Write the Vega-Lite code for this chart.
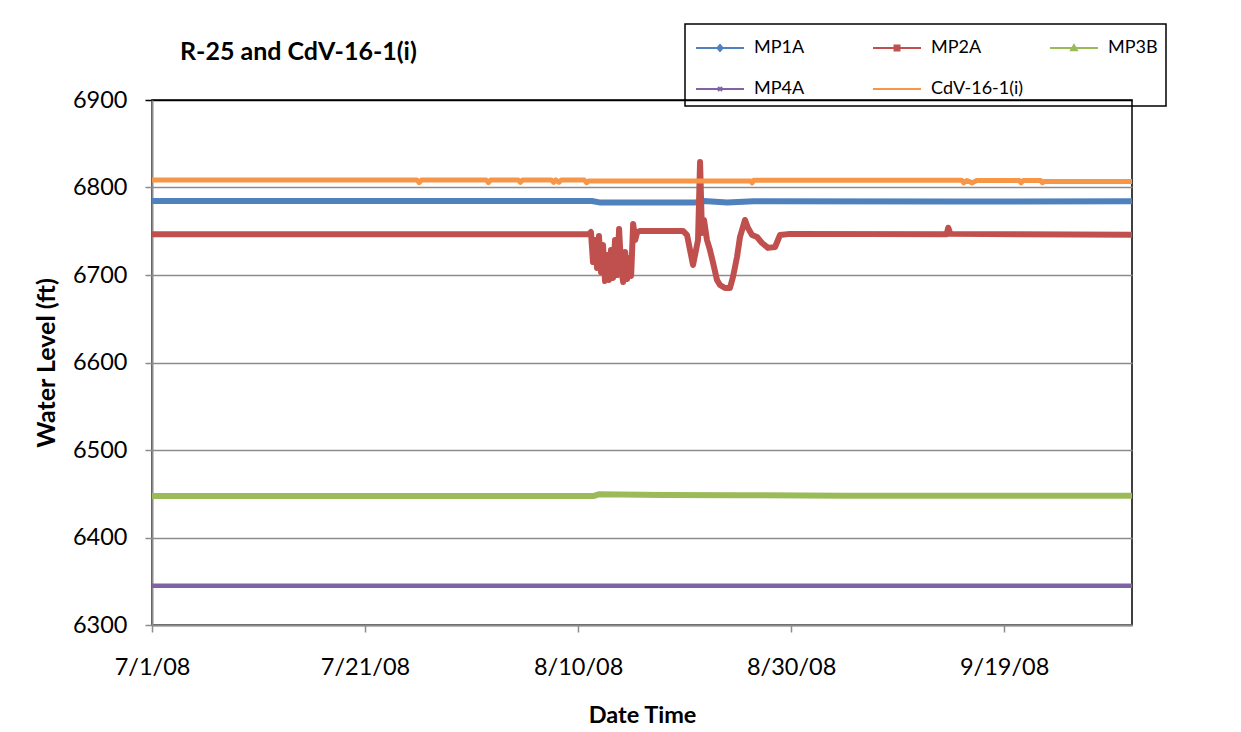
{
  "$schema": "https://vega.github.io/schema/vega-lite/v6.json",
  "width": 980,
  "height": 525,
  "autosize": {"type": "none"},
  "padding": {"left": 152, "top": 100, "right": 109, "bottom": 107},
  "background": "white",
  "title": {"text": "R-25 and CdV-16-1(i)", "anchor": "start", "frame": "group", "dx": 28, "dy": 62, "offset": 0, "baseline": "alphabetic", "font": "Lato", "fontSize": 25, "fontWeight": "bold", "color": "black"},
  "data": {"values": [
    {"date": "2008-07-01T00:00Z", "series": "MP1A", "level": 6784.6},
    {"date": "2008-08-11T07:00Z", "series": "MP1A", "level": 6784.6},
    {"date": "2008-08-12T00:00Z", "series": "MP1A", "level": 6783},
    {"date": "2008-08-21T00:00Z", "series": "MP1A", "level": 6783},
    {"date": "2008-08-21T19:00Z", "series": "MP1A", "level": 6784.5},
    {"date": "2008-08-24T00:00Z", "series": "MP1A", "level": 6782.8},
    {"date": "2008-08-26T12:00Z", "series": "MP1A", "level": 6784.3},
    {"date": "2008-09-14T00:00Z", "series": "MP1A", "level": 6784},
    {"date": "2008-10-01T00:00Z", "series": "MP1A", "level": 6784.2},

    {"date": "2008-07-01T00:00Z", "series": "MP2A", "level": 6746.5},
    {"date": "2008-08-11T00:00Z", "series": "MP2A", "level": 6746.5},
    {"date": "2008-08-11T05:00Z", "series": "MP2A", "level": 6749.1},
    {"date": "2008-08-11T09:36Z", "series": "MP2A", "level": 6714.9},
    {"date": "2008-08-11T14:10Z", "series": "MP2A", "level": 6740},
    {"date": "2008-08-11T18:43Z", "series": "MP2A", "level": 6708},
    {"date": "2008-08-11T23:02Z", "series": "MP2A", "level": 6744.6},
    {"date": "2008-08-12T03:36Z", "series": "MP2A", "level": 6703.4},
    {"date": "2008-08-12T08:10Z", "series": "MP2A", "level": 6734.3},
    {"date": "2008-08-12T12:43Z", "series": "MP2A", "level": 6693.1},
    {"date": "2008-08-12T17:17Z", "series": "MP2A", "level": 6722.9},
    {"date": "2008-08-12T21:36Z", "series": "MP2A", "level": 6694.3},
    {"date": "2008-08-13T02:10Z", "series": "MP2A", "level": 6728.6},
    {"date": "2008-08-13T06:43Z", "series": "MP2A", "level": 6696.6},
    {"date": "2008-08-13T11:17Z", "series": "MP2A", "level": 6740},
    {"date": "2008-08-13T15:50Z", "series": "MP2A", "level": 6700},
    {"date": "2008-08-13T20:24Z", "series": "MP2A", "level": 6752.6},
    {"date": "2008-08-14T00:58Z", "series": "MP2A", "level": 6708},
    {"date": "2008-08-14T05:31Z", "series": "MP2A", "level": 6692},
    {"date": "2008-08-14T10:05Z", "series": "MP2A", "level": 6726.3},
    {"date": "2008-08-14T14:38Z", "series": "MP2A", "level": 6695.4},
    {"date": "2008-08-14T18:58Z", "series": "MP2A", "level": 6719.4},
    {"date": "2008-08-14T23:31Z", "series": "MP2A", "level": 6698.9},
    {"date": "2008-08-15T04:05Z", "series": "MP2A", "level": 6758.3},
    {"date": "2008-08-15T08:38Z", "series": "MP2A", "level": 6740},
    {"date": "2008-08-15T13:12Z", "series": "MP2A", "level": 6749.1},
    {"date": "2008-08-15T19:12Z", "series": "MP2A", "level": 6750.3},
    {"date": "2008-08-19T20:24Z", "series": "MP2A", "level": 6750.3},
    {"date": "2008-08-20T05:31Z", "series": "MP2A", "level": 6745.7},
    {"date": "2008-08-20T18:58Z", "series": "MP2A", "level": 6711.4},
    {"date": "2008-08-21T06:14Z", "series": "MP2A", "level": 6740},
    {"date": "2008-08-21T10:48Z", "series": "MP2A", "level": 6829.1},
    {"date": "2008-08-21T15:07Z", "series": "MP2A", "level": 6748},
    {"date": "2008-08-21T19:40Z", "series": "MP2A", "level": 6762.9},
    {"date": "2008-08-22T02:24Z", "series": "MP2A", "level": 6740},
    {"date": "2008-08-22T09:07Z", "series": "MP2A", "level": 6728.6},
    {"date": "2008-08-22T16:05Z", "series": "MP2A", "level": 6714},
    {"date": "2008-08-23T00:58Z", "series": "MP2A", "level": 6694.3},
    {"date": "2008-08-23T07:41Z", "series": "MP2A", "level": 6688.6},
    {"date": "2008-08-23T18:58Z", "series": "MP2A", "level": 6685.1},
    {"date": "2008-08-24T06:14Z", "series": "MP2A", "level": 6685.1},
    {"date": "2008-08-24T12:58Z", "series": "MP2A", "level": 6697.7},
    {"date": "2008-08-24T22:05Z", "series": "MP2A", "level": 6720.6},
    {"date": "2008-08-25T04:48Z", "series": "MP2A", "level": 6743.4},
    {"date": "2008-08-25T16:05Z", "series": "MP2A", "level": 6762.9},
    {"date": "2008-08-25T22:48Z", "series": "MP2A", "level": 6753.7},
    {"date": "2008-08-26T07:55Z", "series": "MP2A", "level": 6745.7},
    {"date": "2008-08-26T19:12Z", "series": "MP2A", "level": 6743.4},
    {"date": "2008-08-27T06:29Z", "series": "MP2A", "level": 6736.6},
    {"date": "2008-08-27T19:55Z", "series": "MP2A", "level": 6731},
    {"date": "2008-08-28T11:46Z", "series": "MP2A", "level": 6732},
    {"date": "2008-08-28T23:02Z", "series": "MP2A", "level": 6745.7},
    {"date": "2008-08-29T21:22Z", "series": "MP2A", "level": 6747},
    {"date": "2008-09-13T14:24Z", "series": "MP2A", "level": 6746.5},
    {"date": "2008-09-13T18:00Z", "series": "MP2A", "level": 6754},
    {"date": "2008-09-13T22:48Z", "series": "MP2A", "level": 6747},
    {"date": "2008-10-01T00:00Z", "series": "MP2A", "level": 6746},

    {"date": "2008-07-01T00:00Z", "series": "MP3B", "level": 6447.5},
    {"date": "2008-08-11T12:00Z", "series": "MP3B", "level": 6447.5},
    {"date": "2008-08-12T00:00Z", "series": "MP3B", "level": 6449.5},
    {"date": "2008-08-18T00:00Z", "series": "MP3B", "level": 6448.5},
    {"date": "2008-08-25T00:00Z", "series": "MP3B", "level": 6448.3},
    {"date": "2008-09-04T00:00Z", "series": "MP3B", "level": 6447.8},
    {"date": "2008-10-01T00:00Z", "series": "MP3B", "level": 6447.6},

    {"date": "2008-07-01T00:00Z", "series": "MP4A", "level": 6344.8},
    {"date": "2008-08-16T00:00Z", "series": "MP4A", "level": 6344.9},
    {"date": "2008-10-01T00:00Z", "series": "MP4A", "level": 6344.8},

    {"date": "2008-07-01T00:00Z", "series": "CdV-16-1(i)", "level": 6808.6},
    {"date": "2008-07-25T21:00Z", "series": "CdV-16-1(i)", "level": 6808.6},
    {"date": "2008-07-26T02:00Z", "series": "CdV-16-1(i)", "level": 6805.5},
    {"date": "2008-07-26T07:00Z", "series": "CdV-16-1(i)", "level": 6808.6},
    {"date": "2008-08-01T09:00Z", "series": "CdV-16-1(i)", "level": 6808.6},
    {"date": "2008-08-01T14:00Z", "series": "CdV-16-1(i)", "level": 6805.5},
    {"date": "2008-08-01T19:00Z", "series": "CdV-16-1(i)", "level": 6808.6},
    {"date": "2008-08-04T09:00Z", "series": "CdV-16-1(i)", "level": 6808.6},
    {"date": "2008-08-04T14:00Z", "series": "CdV-16-1(i)", "level": 6805.8},
    {"date": "2008-08-04T19:00Z", "series": "CdV-16-1(i)", "level": 6808.6},
    {"date": "2008-08-07T12:00Z", "series": "CdV-16-1(i)", "level": 6808.6},
    {"date": "2008-08-07T17:00Z", "series": "CdV-16-1(i)", "level": 6805.8},
    {"date": "2008-08-07T22:00Z", "series": "CdV-16-1(i)", "level": 6808.6},
    {"date": "2008-08-08T05:00Z", "series": "CdV-16-1(i)", "level": 6806},
    {"date": "2008-08-08T10:00Z", "series": "CdV-16-1(i)", "level": 6808.6},
    {"date": "2008-08-10T14:00Z", "series": "CdV-16-1(i)", "level": 6808.6},
    {"date": "2008-08-10T19:00Z", "series": "CdV-16-1(i)", "level": 6805.5},
    {"date": "2008-08-11T00:00Z", "series": "CdV-16-1(i)", "level": 6807.5},
    {"date": "2008-08-26T05:00Z", "series": "CdV-16-1(i)", "level": 6807.5},
    {"date": "2008-08-26T08:00Z", "series": "CdV-16-1(i)", "level": 6805.3},
    {"date": "2008-08-26T12:00Z", "series": "CdV-16-1(i)", "level": 6808.3},
    {"date": "2008-09-15T00:00Z", "series": "CdV-16-1(i)", "level": 6808.3},
    {"date": "2008-09-15T05:00Z", "series": "CdV-16-1(i)", "level": 6805.3},
    {"date": "2008-09-15T12:00Z", "series": "CdV-16-1(i)", "level": 6808},
    {"date": "2008-09-16T00:00Z", "series": "CdV-16-1(i)", "level": 6805.3},
    {"date": "2008-09-16T10:00Z", "series": "CdV-16-1(i)", "level": 6808},
    {"date": "2008-09-20T10:00Z", "series": "CdV-16-1(i)", "level": 6808},
    {"date": "2008-09-20T14:00Z", "series": "CdV-16-1(i)", "level": 6805.3},
    {"date": "2008-09-20T19:00Z", "series": "CdV-16-1(i)", "level": 6808},
    {"date": "2008-09-22T10:00Z", "series": "CdV-16-1(i)", "level": 6808},
    {"date": "2008-09-22T14:00Z", "series": "CdV-16-1(i)", "level": 6805.5},
    {"date": "2008-09-22T19:00Z", "series": "CdV-16-1(i)", "level": 6806.8},
    {"date": "2008-10-01T00:00Z", "series": "CdV-16-1(i)", "level": 6806.8}
  ]},
  "encoding": {
    "x": {
      "field": "date", "type": "temporal",
      "scale": {"type": "utc", "domain": [{"year": 2008, "month": 7, "date": 1, "utc": true}, {"year": 2008, "month": 10, "date": 1, "utc": true}]},
      "axis": {
        "values": [
          {"year": 2008, "month": 7, "date": 1, "utc": true},
          {"year": 2008, "month": 7, "date": 21, "utc": true},
          {"year": 2008, "month": 8, "date": 10, "utc": true},
          {"year": 2008, "month": 8, "date": 30, "utc": true},
          {"year": 2008, "month": 9, "date": 19, "utc": true}
        ],
        "format": "%-m/%-d/%y",
        "grid": false,
        "domainColor": "#8c8c8c", "domainWidth": 2,
        "tickColor": "#8c8c8c", "tickWidth": 1.5, "tickSize": 7,
        "labelFont": "Lato", "labelFontSize": 23.5, "labelColor": "black", "labelPadding": 23,
        "labelFlush": false, "labelOverlap": false,
        "title": "Date Time", "titleFont": "Lato", "titleFontSize": 23.5, "titleFontWeight": "bold", "titleColor": "black", "titlePadding": 25
      }
    },
    "y": {
      "field": "level", "type": "quantitative",
      "scale": {"domain": [6300, 6900], "nice": false, "zero": false},
      "axis": {
        "values": [6300, 6400, 6500, 6600, 6700, 6800, 6900],
        "format": "d",
        "grid": true,
        "gridColor": {"condition": {"test": "datum.value === 6900", "value": "black"}, "value": "#8c8c8c"},
        "gridWidth": 1.5,
        "domainColor": "#8c8c8c", "domainWidth": 2,
        "tickColor": {"condition": {"test": "datum.value === 6900", "value": "black"}, "value": "#8c8c8c"},
        "tickWidth": 1.5, "tickSize": 7,
        "labelFont": "Lato", "labelFontSize": 23.5, "labelColor": "black", "labelPadding": 18,
        "title": "Water Level (ft)", "titleFont": "Lato", "titleFontSize": 25, "titleFontWeight": "bold", "titleColor": "black", "titlePadding": 13
      }
    },
    "color": {
      "field": "series", "type": "nominal",
      "scale": {"domain": ["MP1A", "MP2A", "MP3B", "MP4A", "CdV-16-1(i)"], "range": ["#4F81BD", "#C0504D", "#9BBB59", "#8064A2", "#F79646"]},
      "legend": {
        "orient": "none", "legendX": 533, "legendY": -76,
        "columns": 3, "direction": "horizontal", "title": null,
        "strokeColor": "black", "padding": 8,
        "symbolSize": 900, "symbolStrokeWidth": 2, "symbolType": "M-0.867,0H2.333",
        "labelFont": "Lato", "labelFontSize": 18, "labelColor": "black", "labelOffset": 29, "labelLimit": 300,
        "columnPadding": 21, "rowPadding": 16, "gridAlign": "all",
        "encode": {
          "legend": {"update": {"strokeWidth": {"value": 1.5}, "width": {"value": 600}}},
          "symbols": {
            "update": {
              "shape": {"signal": "datum.value === 'MP1A' ? 'M-0.867,0H2.333M0.733,-0.2L0.907,0L0.733,0.2L0.56,0Z' : datum.value === 'MP2A' ? 'M-0.867,0H2.333M0.57,-0.17H0.9V0.17H0.57Z' : datum.value === 'MP3B' ? 'M-0.867,0H2.333M0.733,-0.19L0.926,0.15H0.54Z' : datum.value === 'MP4A' ? 'M-0.867,0H2.333M0.6,-0.13L0.87,0.13M0.6,0.13L0.87,-0.13' : 'M-0.867,0H2.333'"},
              "fill": {"scale": "color", "field": "value"},
              "strokeWidth": {"value": 2}
            }
          }
        }
      }
    }
  },
  "layer": [
    {
      "transform": [{"filter": {"field": "series", "oneOf": ["MP1A", "MP2A", "MP3B"]}}],
      "mark": {"type": "line", "strokeJoin": "round", "strokeCap": "butt", "strokeWidth": 6, "clip": true}
    },
    {
      "transform": [{"filter": {"field": "series", "equal": "MP4A"}}],
      "mark": {"type": "line", "strokeJoin": "round", "strokeCap": "butt", "strokeWidth": 4.5, "clip": true}
    },
    {
      "transform": [{"filter": {"field": "series", "equal": "CdV-16-1(i)"}}],
      "mark": {"type": "line", "strokeJoin": "round", "strokeCap": "butt", "strokeWidth": 5, "clip": true}
    }
  ],
  "config": {
    "font": "Lato",
    "view": {"stroke": "black", "strokeWidth": 1.5}
  }
}
